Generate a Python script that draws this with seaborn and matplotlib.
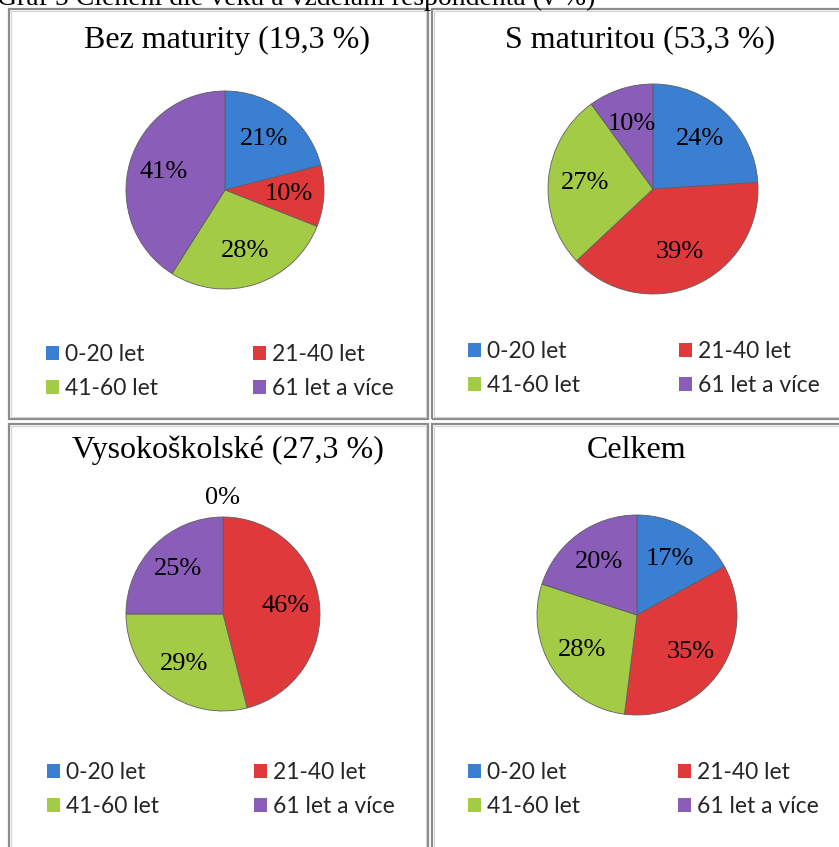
import matplotlib
matplotlib.use("Agg")
import matplotlib.pyplot as plt
import seaborn as sns
import numpy as np
from matplotlib.patches import Rectangle, Patch

# ---- data ----
categories = ['0-20 let', '21-40 let', '41-60 let', '61 let a více']
bez_maturity = [21, 10, 28, 41]
s_maturitou = [24, 39, 27, 10]
vysokoskolske = [0, 46, 29, 25]
celkem = [17, 35, 28, 20]
panel_titles = ['Bez maturity (19,3 %)', 'S maturitou (53,3 %)',
                'Vysokoškolské (27,3 %)', 'Celkem']
main_title = 'Graf 5 Členění dle věku a vzdělání respondenta (v %)'

sns.set_theme(style='white')
colors = sns.color_palette(['#3a7fd2', '#e0393b', '#a4cb45', '#8a5db8'])

W, H = 839, 847
fig = plt.figure(figsize=(W / 100, H / 100), dpi=100)

SERIF = 'Liberation Serif'
SANS = ['Lato', 'DejaVu Sans']

panels = [
    dict(vals=bez_maturity, c=(225, 190), r=99, ty=40, lx=(46, 253), ly=(355, 388), box=(9, 9, 428, 419)),
    dict(vals=s_maturitou, c=(653, 189), r=105, ty=40, lx=(468, 679), ly=(352, 385), box=(432, 9, 850, 419)),
    dict(vals=vysokoskolske, c=(223, 614), r=97, ty=450, lx=(47, 254), ly=(773, 806), box=(9, 424, 428, 860)),
    dict(vals=celkem, c=(637, 615), r=100, ty=450, lx=(468, 678), ly=(773, 806), box=(432, 424, 850, 860)),
]
title_x = [227, 640, 228, 637]


def px_rect(x0, y0, x1, y1):
    return (x0 / W, 1 - y1 / H, (x1 - x0) / W, (y1 - y0) / H)


# panel borders
for p in panels:
    x0, y0, x1, y1 = p['box']
    fx, fy, fw, fh = px_rect(x0, y0, x1, y1)
    fig.patches.append(Rectangle((fx, fy), fw, fh, transform=fig.transFigure,
                                 fill=False, edgecolor='#8c8c8c', linewidth=1.6, zorder=0))
    fx, fy, fw, fh = px_rect(x0 + 2, y0 + 2, x1 - 2, y1 - 2)
    fig.patches.append(Rectangle((fx, fy), fw, fh, transform=fig.transFigure,
                                 fill=False, edgecolor='#d4d4d4', linewidth=0.8, zorder=0))

for i, p in enumerate(panels):
    cx, cy = p['c']
    r = p['r']
    ax = fig.add_axes(px_rect(cx - r, cy - r, cx + r, cy + r))
    wedges, texts, autotexts = ax.pie(
        p['vals'], colors=colors, startangle=90, counterclock=False,
        autopct=lambda v: f'{v:.0f}%', pctdistance=0.65,
        textprops=dict(family=SERIF, size=19, color='black'),
        wedgeprops=dict(edgecolor='#5f5f5f', linewidth=0.6))
    for w, t, v in zip(wedges, autotexts, p['vals']):
        if v == 0:
            ang = np.deg2rad((w.theta1 + w.theta2) / 2)
            t.set_position((1.2 * np.cos(ang), 1.2 * np.sin(ang)))
    ax.set_xlim(-1, 1)
    ax.set_ylim(-1, 1)
    ax.set_aspect('equal')
    ax.axis('off')

    fig.text(title_x[i] / W, 1 - p['ty'] / H, panel_titles[i], ha='center', va='center',
             family=SERIF, size=23, color='black')

    handles = [Patch(facecolor=colors[k], edgecolor='none') for k in range(4)]
    ymid = (p['ly'][0] + p['ly'][1]) / 2
    for col in range(2):
        idx = [col, col + 2]
        fig.legend([handles[k] for k in idx], [categories[k] for k in idx],
                   loc='center left', bbox_to_anchor=(p['lx'][col] / W, 1 - ymid / H),
                   frameon=False, prop=dict(family=SANS, size=16.5),
                   handlelength=0.55, handleheight=0.55, handletextpad=0.3,
                   labelspacing=0.55, borderpad=0, borderaxespad=0)

fig.text(-3 / W, 1 - 5 / H, main_title, ha='left', va='baseline', family=SERIF,
         size=20, color='black')

fig.savefig('out.png', dpi=100, facecolor='white')
